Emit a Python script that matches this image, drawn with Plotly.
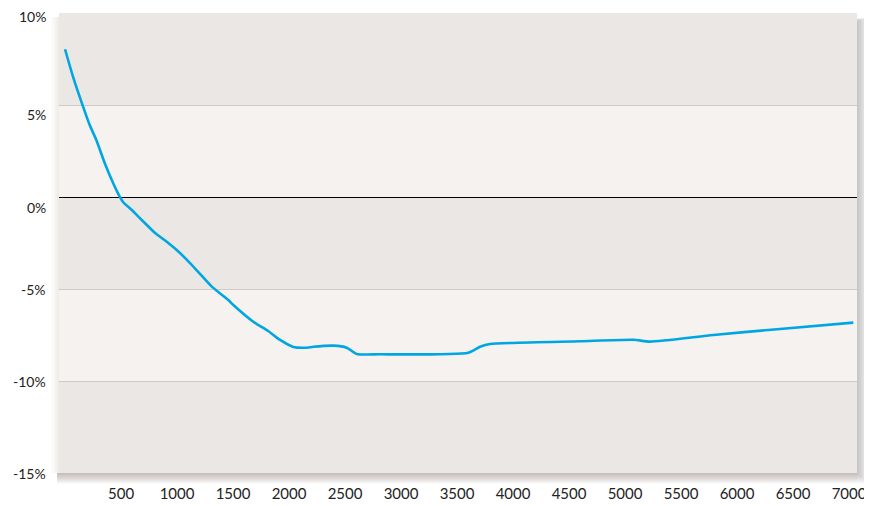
import plotly.graph_objects as go

x_vals = [0, 71, 161, 220, 279, 354, 429, 488, 518, 596, 685, 804, 908, 997, 1116, 1205, 1310,
          1458, 1503, 1681, 1813, 1920, 2038, 2158, 2217, 2396, 2515, 2604, 2813, 3601, 3705,
          3795, 4598, 5074, 5223, 5788, 6384, 7038]
y_vals = [8.03, 6.54, 4.91, 3.91, 3.10, 1.85, 0.76, 0.02, -0.27, -0.71, -1.25, -1.96, -2.43,
          -2.88, -3.59, -4.18, -4.87, -5.60, -5.87, -6.78, -7.28, -7.77, -8.15, -8.19, -8.14,
          -8.08, -8.19, -8.53, -8.55, -8.46, -8.14, -7.99, -7.84, -7.76, -7.86, -7.50, -7.17, -6.83]

x_ticks = [500, 1000, 1500, 2000, 2500, 3000, 3500, 4000, 4500, 5000, 5500, 6000, 6500, 7000]
y_ticks = [10, 5, 0, -5, -10, -15]
y_tick_labels = ["10%", "5%", "0%", "-5%", "-10%", "-15%"]
y_label_shift = [-3, -9, -10, 0, 0, 0]

band_dark = "#ebe7e4"
band_light = "#f5f2ef"
FONT = "Lato, Open Sans, sans-serif"

fig = go.Figure()
fig.add_trace(go.Scatter(x=x_vals, y=y_vals, mode="lines",
                         line=dict(color="#00a6e2", width=2.6, shape="spline", smoothing=0.6),
                         hoverinfo="skip", showlegend=False))

# page has an 8px body margin, so the figure is 8px smaller and offset
W, H = 864, 498
L, R, T, B = 51, 849, 5, 465


def fx(p):
    return (p - L) / (R - L)


def fy(p):
    return (B - p) / (B - T)


shapes = []
for k in range(len(y_ticks) - 1):
    shapes.append(dict(type="rect", xref="paper", yref="y", x0=0, x1=1,
                       y0=y_ticks[k + 1], y1=y_ticks[k],
                       fillcolor=band_dark if k % 2 == 0 else band_light,
                       line=dict(width=0), layer="below"))
# drop shadow strips outside the plot area
for i in range(12):
    w = i + 1
    shapes.append(dict(type="rect", xref="paper", yref="paper",
                       x0=fx(R), x1=fx(R + w), y0=fy(B + w * 0.9), y1=fy(T + 8 - i * 0.3),
                       fillcolor="rgba(60,40,30,0.025)", line=dict(width=0), layer="above"))
    shapes.append(dict(type="rect", xref="paper", yref="paper",
                       x0=fx(L - 2), x1=fx(R), y0=fy(B + w * 0.9), y1=fy(B),
                       fillcolor="rgba(60,40,30,0.028)", line=dict(width=0), layer="above"))
for i in range(6):
    w = i + 1
    shapes.append(dict(type="rect", xref="paper", yref="paper",
                       x0=fx(L - w * 1.3), x1=fx(L), y0=fy(B), y1=fy(T + 4),
                       fillcolor="rgba(60,40,30,0.014)", line=dict(width=0), layer="above"))

annotations = []
for v, t, sh in zip(y_ticks, y_tick_labels, y_label_shift):
    annotations.append(dict(xref="paper", yref="y", x=0, y=v, text=t, showarrow=False,
                            xanchor="right", yanchor="middle", xshift=-11, yshift=sh,
                            font=dict(family=FONT, size=14, color="#222")))

fig.update_layout(
    width=W, height=H,
    margin=dict(l=L, r=W - R, t=T, b=H - B, autoexpand=False),
    paper_bgcolor="white",
    plot_bgcolor="rgba(0,0,0,0)",
    shapes=shapes,
    annotations=annotations,
    xaxis=dict(range=[-54, 7071], tickvals=x_ticks, ticktext=[str(v) for v in x_ticks],
               showgrid=False, zeroline=False, showline=False, automargin=False,
               ticks="outside", ticklen=7, tickcolor="rgba(0,0,0,0)",
               tickfont=dict(family=FONT, size=15, color="#222"),
               fixedrange=True),
    yaxis=dict(range=[-15, 10], tickvals=y_ticks, showticklabels=False, automargin=False,
               showgrid=True, gridcolor="#d0cac6", gridwidth=1,
               zeroline=True, zerolinecolor="#000", zerolinewidth=1,
               showline=False, fixedrange=True),
)

fig.write_html("out.html")
